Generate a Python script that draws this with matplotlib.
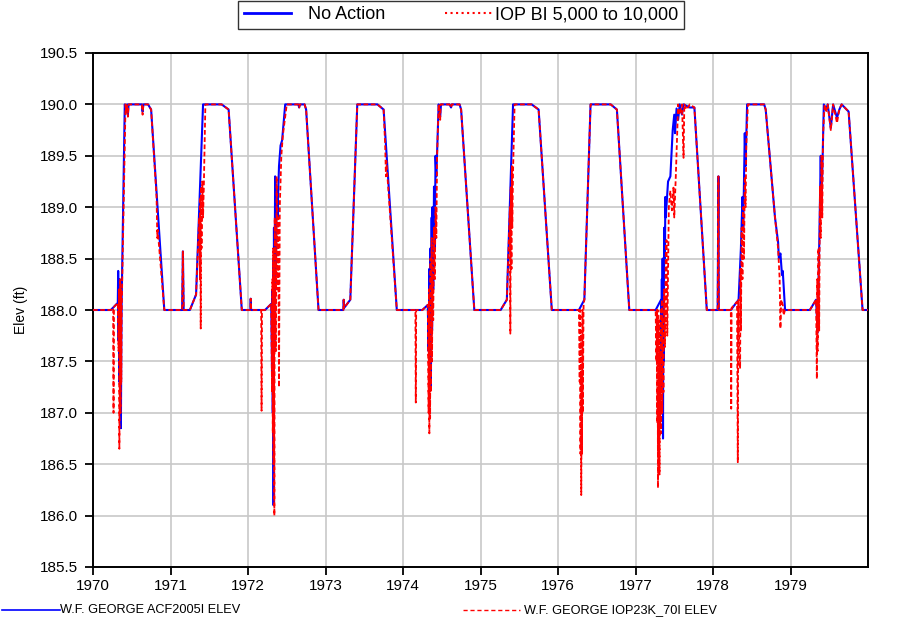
import numpy as np
import matplotlib
matplotlib.use("Agg")
import matplotlib.pyplot as plt
from matplotlib.lines import Line2D

plt.rcParams['font.family'] = ['Liberation Sans', 'DejaVu Sans']

# W.F. George pool elevation, (year, elev ft)
no_action = [
    (1970.00, 188.00), (1970.23, 188.00), (1970.32, 188.07), (1970.325, 188.38), (1970.33, 187.7),
    (1970.335, 188.3), (1970.34, 187.3), (1970.345, 188.2), (1970.35, 187.0), (1970.355, 188.1),
    (1970.36, 186.85), (1970.365, 187.6), (1970.37, 188.1), (1970.41, 190.00), (1970.43, 189.93),
    (1970.44, 190.00), (1970.45, 189.9), (1970.46, 190.00), (1970.63, 190.00), (1970.64, 189.93),
    (1970.65, 190.00), (1970.71, 190.00), (1970.75, 189.95), (1970.92, 188.00),
    (1971.15, 188.00), (1971.16, 188.57), (1971.17, 188.00), (1971.25, 188.00), (1971.33, 188.15),
    (1971.42, 190.00), (1971.66, 190.00), (1971.75, 189.95), (1971.92, 188.00), (1972.03, 188.00),
    (1972.035, 188.11), (1972.04, 188.00),
    (1972.22, 188.00), (1972.30, 188.06), (1972.31, 187.4), (1972.315, 188.2), (1972.32, 187.0),
    (1972.325, 188.5), (1972.33, 186.1), (1972.335, 188.8), (1972.34, 187.6), (1972.35, 189.3),
    (1972.36, 188.4), (1972.37, 189.2), (1972.38, 188.9), (1972.40, 189.4), (1972.42, 189.6),
    (1972.44, 189.65), (1972.48, 190.00), (1972.65, 190.00), (1972.66, 189.97), (1972.67, 190.00),
    (1972.73, 190.00), (1972.75, 189.95), (1972.91, 188.00),
    (1973.23, 188.00), (1973.235, 188.1), (1973.24, 188.02), (1973.32, 188.10), (1973.41, 190.00),
    (1973.67, 190.00), (1973.75, 189.95), (1973.92, 188.00),
    (1974.25, 188.00), (1974.32, 188.05), (1974.33, 187.6), (1974.34, 188.4), (1974.35, 187.3),
    (1974.355, 188.6), (1974.36, 187.25), (1974.37, 188.9), (1974.375, 187.8), (1974.38, 189.0),
    (1974.39, 188.2), (1974.40, 189.2), (1974.41, 188.6), (1974.42, 189.5), (1974.43, 189.3),
    (1974.46, 190.00), (1974.48, 189.88), (1974.49, 190.00), (1974.60, 190.00), (1974.62, 189.97),
    (1974.63, 190.00), (1974.73, 190.00), (1974.75, 189.95), (1974.92, 188.00),
    (1975.26, 188.00), (1975.34, 188.10), (1975.42, 190.00), (1975.66, 190.00), (1975.75, 189.95),
    (1975.92, 188.00),
    (1976.27, 188.00), (1976.34, 188.10), (1976.42, 190.00), (1976.68, 190.00), (1976.76, 189.95),
    (1976.92, 188.00),
    (1977.26, 188.00), (1977.33, 188.10), (1977.335, 187.6), (1977.34, 188.3), (1977.345, 187.2),
    (1977.35, 188.5), (1977.355, 186.75), (1977.36, 188.4), (1977.365, 187.5), (1977.37, 188.8),
    (1977.38, 188.5), (1977.385, 189.1), (1977.39, 188.9), (1977.42, 189.25), (1977.45, 189.3),
    (1977.48, 189.75), (1977.50, 189.9), (1977.51, 189.72), (1977.53, 189.96), (1977.55, 189.85),
    (1977.57, 190.00), (1977.60, 189.9), (1977.62, 190.00), (1977.70, 189.97), (1977.76, 189.97),
    (1977.92, 188.00),
    (1978.06, 188.00), (1978.07, 189.30), (1978.075, 188.00), (1978.23, 188.00), (1978.33, 188.10),
    (1978.36, 188.6), (1978.38, 189.1), (1978.39, 188.8), (1978.41, 189.72), (1978.42, 189.4),
    (1978.44, 190.00), (1978.66, 190.00), (1978.68, 189.95), (1978.80, 188.9), (1978.84, 188.66),
    (1978.85, 188.5), (1978.87, 188.55), (1978.89, 188.34), (1978.90, 188.38), (1978.93, 188.00),
    (1979.25, 188.00), (1979.33, 188.10), (1979.35, 187.78), (1979.37, 188.6), (1979.39, 189.5),
    (1979.40, 189.0), (1979.43, 190.00), (1979.46, 189.95), (1979.48, 190.00), (1979.52, 189.77),
    (1979.55, 190.00), (1979.60, 189.87), (1979.63, 189.95), (1979.66, 190.00), (1979.75, 189.93),
    (1979.93, 188.00), (1980.00, 188.00),
]

iop = [
    (1970.00, 188.00), (1970.23, 188.00), (1970.26, 188.02), (1970.265, 187.00), (1970.27, 188.03),
    (1970.32, 188.07), (1970.33, 187.6), (1970.335, 188.2), (1970.34, 186.65), (1970.345, 187.2),
    (1970.35, 188.3), (1970.355, 187.0), (1970.36, 188.2), (1970.365, 187.3), (1970.37, 188.0),
    (1970.42, 190.00), (1970.43, 189.92), (1970.44, 190.00), (1970.45, 189.88), (1970.46, 190.00),
    (1970.63, 190.00), (1970.64, 189.9), (1970.65, 190.00), (1970.71, 190.00), (1970.75, 189.95),
    (1970.82, 189.1), (1970.83, 188.7), (1970.835, 188.78), (1970.92, 188.00),
    (1971.15, 188.00), (1971.16, 188.57), (1971.17, 188.00), (1971.25, 188.00), (1971.33, 188.15),
    (1971.37, 188.9), (1971.38, 188.3), (1971.385, 189.1), (1971.39, 187.82), (1971.395, 189.2),
    (1971.40, 188.6), (1971.41, 189.25), (1971.42, 188.9), (1971.43, 189.2), (1971.45, 190.00),
    (1971.66, 190.00), (1971.75, 189.95), (1971.92, 188.00), (1972.03, 188.00), (1972.035, 188.11),
    (1972.04, 188.00),
    (1972.17, 188.00), (1972.175, 187.02), (1972.18, 188.00), (1972.22, 188.00), (1972.30, 188.06),
    (1972.31, 187.2), (1972.315, 188.3), (1972.32, 186.8), (1972.325, 188.6), (1972.33, 186.5),
    (1972.335, 188.4), (1972.34, 186.0), (1972.345, 188.9), (1972.36, 187.6), (1972.37, 189.3),
    (1972.38, 188.2), (1972.39, 188.9), (1972.40, 187.25), (1972.41, 189.0), (1972.43, 189.5),
    (1972.45, 189.7), (1972.50, 190.00), (1972.65, 190.00), (1972.66, 189.97), (1972.67, 190.00),
    (1972.73, 190.00), (1972.75, 189.95), (1972.91, 188.00),
    (1973.23, 188.00), (1973.235, 188.1), (1973.24, 188.02), (1973.32, 188.10), (1973.41, 190.00),
    (1973.67, 190.00), (1973.75, 189.95), (1973.77, 189.6), (1973.78, 189.3), (1973.785, 189.45),
    (1973.92, 188.00),
    (1974.16, 188.00), (1974.165, 187.10), (1974.17, 188.00), (1974.25, 188.00), (1974.32, 188.05),
    (1974.33, 187.0), (1974.335, 188.2), (1974.34, 186.8), (1974.345, 188.0), (1974.35, 186.95),
    (1974.355, 188.5), (1974.36, 187.2), (1974.37, 188.7), (1974.375, 187.5), (1974.38, 188.3),
    (1974.39, 187.9), (1974.40, 188.8), (1974.41, 188.3), (1974.42, 189.0), (1974.43, 188.7),
    (1974.44, 189.5), (1974.46, 190.00), (1974.48, 189.85), (1974.485, 190.00), (1974.60, 190.00),
    (1974.62, 189.97), (1974.63, 190.00), (1974.73, 190.00), (1974.75, 189.95), (1974.92, 188.00),
    (1975.26, 188.00), (1975.34, 188.10), (1975.38, 189.0), (1975.385, 187.77), (1975.39, 189.2),
    (1975.40, 188.4), (1975.405, 189.4), (1975.41, 188.8), (1975.42, 189.35), (1975.44, 190.00),
    (1975.66, 190.00), (1975.75, 189.95), (1975.92, 188.00),
    (1976.27, 188.00), (1976.28, 187.3), (1976.285, 188.00), (1976.29, 186.6), (1976.295, 187.8),
    (1976.30, 186.2), (1976.305, 187.4), (1976.31, 186.6), (1976.315, 188.0), (1976.32, 187.0),
    (1976.33, 188.05), (1976.34, 188.10), (1976.42, 190.00), (1976.68, 190.00), (1976.76, 189.95),
    (1976.92, 188.00),
    (1977.26, 188.00), (1977.27, 187.5), (1977.275, 188.0), (1977.28, 186.9), (1977.285, 188.0),
    (1977.29, 186.27), (1977.295, 187.2), (1977.30, 186.6), (1977.305, 187.9), (1977.31, 186.4),
    (1977.315, 187.6), (1977.32, 186.9), (1977.325, 188.0), (1977.33, 186.8), (1977.34, 188.1),
    (1977.345, 187.0), (1977.35, 187.9), (1977.36, 187.2), (1977.37, 188.2), (1977.38, 187.64),
    (1977.39, 188.5), (1977.40, 188.68), (1977.41, 187.75), (1977.43, 189.0), (1977.45, 189.16),
    (1977.47, 188.97), (1977.49, 189.19), (1977.50, 188.9), (1977.52, 189.3), (1977.55, 190.00),
    (1977.57, 189.9), (1977.60, 190.00), (1977.62, 189.48), (1977.63, 190.00), (1977.66, 189.95),
    (1977.70, 190.00), (1977.76, 189.97), (1977.92, 188.00),
    (1978.06, 188.00), (1978.07, 189.30), (1978.075, 188.00), (1978.23, 188.00), (1978.235, 187.04),
    (1978.24, 188.02), (1978.31, 188.08), (1978.32, 186.52), (1978.325, 188.09), (1978.33, 188.10),
    (1978.34, 187.6), (1978.35, 187.43), (1978.355, 188.4), (1978.36, 187.8), (1978.37, 188.8),
    (1978.38, 188.3), (1978.39, 189.0), (1978.40, 188.5), (1978.41, 189.3), (1978.42, 189.0),
    (1978.43, 189.6), (1978.45, 190.00), (1978.66, 190.00), (1978.68, 189.95), (1978.80, 188.9),
    (1978.84, 188.6), (1978.86, 188.3), (1978.87, 187.82), (1978.88, 188.1), (1978.90, 188.05),
    (1978.91, 187.95), (1978.93, 188.00),
    (1979.25, 188.00), (1979.33, 188.10), (1979.34, 187.33), (1979.345, 188.3), (1979.35, 187.6),
    (1979.36, 188.6), (1979.37, 187.8), (1979.38, 189.2), (1979.39, 188.7), (1979.40, 189.5),
    (1979.41, 188.9), (1979.42, 189.7), (1979.44, 190.00), (1979.46, 189.92), (1979.48, 190.00),
    (1979.52, 189.75), (1979.55, 190.00), (1979.60, 189.82), (1979.63, 189.95), (1979.66, 190.00),
    (1979.75, 189.93), (1979.93, 188.00), (1980.00, 188.00),
]

year_ticks = list(range(1970, 1980))
elev_ticks = [185.5, 186.0, 186.5, 187.0, 187.5, 188.0, 188.5, 189.0, 189.5, 190.0, 190.5]
legend_names = ["No Action", "IOP BI 5,000 to 10,000"]
series_names = ["W.F. GEORGE ACF2005I ELEV", "W.F. GEORGE IOP23K_70I ELEV"]

na = np.array(no_action)
io = np.array(iop)

fig = plt.figure(figsize=(8.99, 6.23), dpi=100)
ax = fig.add_axes([93/899, 56/623, 775/899, 514/623])

ax.plot(na[:, 0], na[:, 1], color="#0000ff", lw=1.5, zorder=3)
ax.plot(io[:, 0], io[:, 1], color="#ff0000", lw=1.3, dashes=(2.6, 1.4), zorder=4)

ax.set_xlim(1970, 1980)
ax.set_ylim(185.5, 190.5)
ax.set_xticks(year_ticks)
ax.set_xticklabels([str(y) for y in year_ticks])
ax.set_yticks(elev_ticks)
ax.set_yticklabels([f"{v:.1f}" for v in elev_ticks])
ax.grid(True, color="#c8c8c8", lw=1.2, zorder=0)
ax.set_axisbelow(True)
ax.tick_params(direction="out", length=6, width=1.3, labelsize=11, pad=5, top=False, right=False)
ax.tick_params(axis="x", pad=3)
for s in ax.spines.values():
    s.set_linewidth(1.4)
ax.set_ylabel("Elev (ft)", fontsize=10, labelpad=8)

# top legend with its own handle styles
handles = [Line2D([], [], color="#0000ff", lw=2),
           Line2D([], [], color="#ff0000", lw=1.5, ls=":")]
leg = fig.legend(handles, ["   " + legend_names[0], legend_names[1]], loc="upper center",
                 bbox_to_anchor=(461/899, 1 - 1/623), ncol=2, fontsize=13, frameon=True,
                 fancybox=False, edgecolor="black", handlelength=2.6, handletextpad=0.15,
                 columnspacing=3.3, borderpad=0.3, borderaxespad=0)
leg.get_frame().set_linewidth(1.0)

# bottom series key
fig.add_artist(Line2D([2/899, 60/899], [1 - 610/623] * 2, color="#0000ff", lw=1.2))
fig.text(60/899, 1 - 610/623, series_names[0], fontsize=9.2, va="center", ha="left")
fig.add_artist(Line2D([463/899, 520/899], [1 - 610/623] * 2, color="#ff0000", lw=1.0, dashes=(3, 2)))
fig.text(524/899, 1 - 610/623, series_names[1], fontsize=9.2, va="center", ha="left")

fig.savefig("out.png", dpi=100)
